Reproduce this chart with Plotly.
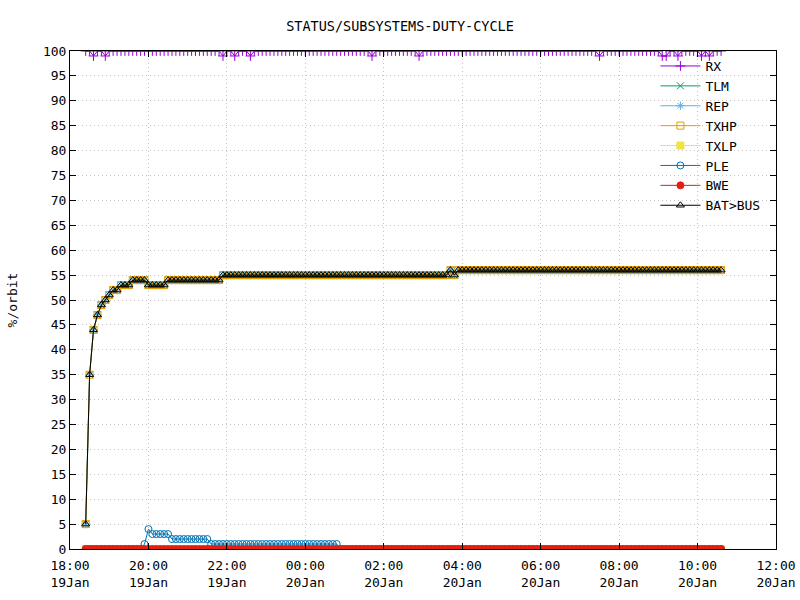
import pandas as pd
import plotly.graph_objects as go

# sampling grid (6-minute samples)
times = pd.date_range("2024-01-19 18:24", periods=163, freq="6min")

rx = [100, 100, 99, 100, 100, 99, 100, 100, 100, 100, 100, 100, 100, 100, 100, 100, 100, 100, 100, 100,
      100, 100, 100, 100, 100, 100, 100, 100, 100, 100, 100, 100, 100, 100, 100, 99, 100, 100, 99, 100,
      100, 100, 99, 100, 100, 100, 100, 100, 100, 100, 100, 100, 100, 100, 100, 100, 100, 100, 100, 100,
      100, 100, 100, 100, 100, 100, 100, 100, 100, 100, 100, 100, 100, 99, 100, 100, 100, 100, 100, 100,
      100, 100, 100, 100, 100, 99, 100, 100, 100, 100, 100, 100, 100, 100, 100, 100, 100, 100, 100, 100,
      100, 100, 100, 100, 100, 100, 100, 100, 100, 100, 100, 100, 100, 100, 100, 100, 100, 100, 100, 100,
      100, 100, 100, 100, 100, 100, 100, 100, 100, 100, 100, 99, 100, 100, 100, 100, 100, 100, 100, 100,
      100, 100, 100, 100, 100, 100, 100, 99, 99, 100, 100, 99, 100, 100, 100, 100, 100, 99, 100, 99,
      100, 100, 100]

bat_bus = [5, 35, 44, 47, 49, 50, 51, 52, 52, 53, 53, 53, 54, 54, 54, 54, 53, 53, 53, 53,
           53, 54, 54, 54, 54, 54, 54, 54, 54, 54, 54, 54, 54, 54, 54, 55, 55, 55, 55, 55,
           55, 55, 55, 55, 55, 55, 55, 55, 55, 55, 55, 55, 55, 55, 55, 55, 55, 55, 55, 55,
           55, 55, 55, 55, 55, 55, 55, 55, 55, 55, 55, 55, 55, 55, 55, 55, 55, 55, 55, 55,
           55, 55, 55, 55, 55, 55, 55, 55, 55, 55, 55, 55, 55, 56, 55, 56, 56, 56, 56, 56,
           56, 56, 56, 56, 56, 56, 56, 56, 56, 56, 56, 56, 56, 56, 56, 56, 56, 56, 56, 56,
           56, 56, 56, 56, 56, 56, 56, 56, 56, 56, 56, 56, 56, 56, 56, 56, 56, 56, 56, 56,
           56, 56, 56, 56, 56, 56, 56, 56, 56, 56, 56, 56, 56, 56, 56, 56, 56, 56, 56, 56,
           56, 56, 56]

tlm = list(bat_bus)
rep = list(bat_bus)
txhp = list(bat_bus)

ple = [0, 0, 0, 0, 0, 0, 0, 0, 0, 0, 0, 0, 0, 0, 0, 1, 4, 3, 3, 3,
       3, 3, 2, 2, 2, 2, 2, 2, 2, 2, 2, 2, 1, 1, 1, 1, 1, 1, 1, 1,
       1, 1, 1, 1, 1, 1, 1, 1, 1, 1, 1, 1, 1, 1, 1, 1, 1, 1, 1, 1,
       1, 1, 1, 1, 1, 0, 0, 0, 0, 0, 0, 0, 0, 0, 0, 0, 0, 0, 0, 0,
       0, 0, 0, 0, 0, 0, 0, 0, 0, 0, 0, 0, 0, 0, 0, 0, 0, 0, 0, 0,
       0, 0, 0, 0, 0, 0, 0, 0, 0, 0, 0, 0, 0, 0, 0, 0, 0, 0, 0, 0,
       0, 0, 0, 0, 0, 0, 0, 0, 0, 0, 0, 0, 0, 0, 0, 0, 0, 0, 0, 0,
       0, 0, 0, 0, 0, 0, 0, 0, 0, 0, 0, 0, 0, 0, 0, 0, 0, 0, 0, 0,
       0, 0, 0]

txlp = [0, 0, 0, 0, 0, 0, 0, 0, 0, 0, 0, 0, 0, 0, 0, 0, 0, 0, 0, 0,
        0, 0, 0, 0, 0, 0, 0, 0, 0, 0, 0, 0, 0, 0, 0, 0, 0, 0, 0, 0,
        0, 0, 0, 0, 0, 0, 0, 0, 0, 0, 0, 0, 0, 0, 0, 0, 0, 0, 0, 0,
        0, 0, 0, 0, 0, 0, 0, 0, 0, 0, 0, 0, 0, 0, 0, 0, 0, 0, 0, 0,
        0, 0, 0, 0, 0, 0, 0, 0, 0, 0, 0, 0, 0, 0, 0, 0, 0, 0, 0, 0,
        0, 0, 0, 0, 0, 0, 0, 0, 0, 0, 0, 0, 0, 0, 0, 0, 0, 0, 0, 0,
        0, 0, 0, 0, 0, 0, 0, 0, 0, 0, 0, 0, 0, 0, 0, 0, 0, 0, 0, 0,
        0, 0, 0, 0, 0, 0, 0, 0, 0, 0, 0, 0, 0, 0, 0, 0, 0, 0, 0, 0,
        0, 0, 0]
bwe = list(txlp)

series_names = ["RX", "TLM", "REP", "TXHP", "TXLP", "PLE", "BWE", "BAT>BUS"]
series_values = [rx, tlm, rep, txhp, txlp, ple, bwe, bat_bus]
colors = ["#9400d3", "#009e73", "#56b4e9", "#e69f00", "#f0e442", "#0072b2", "#e51e10", "#000000"]
symbols = ["cross-thin-open", "x-thin-open", "asterisk-open", "square-open", "square",
           "circle-open", "circle", "triangle-up-open"]

FONT = "DejaVu Sans Mono"

fig = go.Figure()
for name, vals, col, sym in zip(series_names, series_values, colors, symbols):
    fig.add_trace(go.Scatter(
        x=times, y=vals, name=name, mode="lines+markers",
        line=dict(color=col, width=1),
        marker=dict(symbol=sym, size=7, color=col, line=dict(color=col, width=1)),
    ))

fig.update_layout(
    width=800, height=600,
    margin=dict(l=70, r=24, t=51, b=51, autoexpand=False),
    paper_bgcolor="white", plot_bgcolor="white",
    font=dict(family=FONT, size=13, color="black"),
    title=dict(text="STATUS/SUBSYSTEMS-DUTY-CYCLE", x=0.5, xanchor="center",
               y=0.957, yanchor="middle", font=dict(family=FONT, size=13.5)),
    legend=dict(x=0.985, xanchor="right", y=1.0, yanchor="top",
                bgcolor="rgba(0,0,0,0)", font=dict(family=FONT, size=13),
                tracegroupgap=0, itemwidth=40),
    showlegend=True,
)
fig.update_xaxes(
    type="date", automargin=False,
    range=["2024-01-19 18:00", "2024-01-20 12:00"],
    dtick=2 * 3600 * 1000, tick0="2024-01-19 18:00",
    tickformat="%H:%M<br>%d%b", ticklabelstandoff=4,
    showline=True, mirror="ticks", linecolor="black", linewidth=1,
    ticks="inside", ticklen=6, tickcolor="black",
    showgrid=True, gridcolor="#c4c4c4", griddash="1px,3px", gridwidth=1,
    zeroline=False, tickfont=dict(family=FONT, size=13),
)
fig.update_yaxes(
    range=[0, 100], dtick=5, automargin=False,
    title=dict(text="%/orbit", font=dict(family=FONT, size=13), standoff=22),
    showline=True, mirror="ticks", linecolor="black", linewidth=1,
    ticks="inside", ticklen=6, tickcolor="black",
    showgrid=True, gridcolor="#c4c4c4", griddash="1px,3px", gridwidth=1,
    zeroline=False, tickfont=dict(family=FONT, size=13),
)

fig.write_html("out.html", config={"displayModeBar": False},
               post_script="document.body.style.margin='0';")
